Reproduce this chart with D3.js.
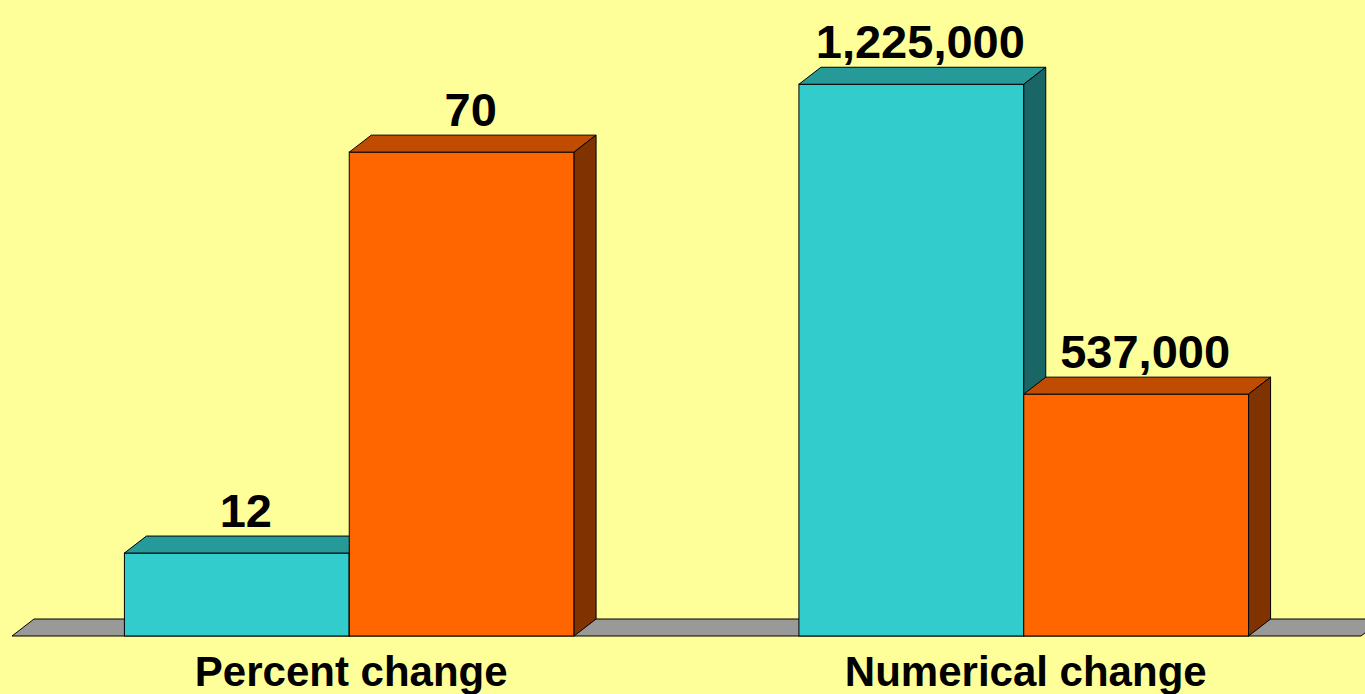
<!DOCTYPE html>
<html>
<head>
<meta charset="utf-8">
<script src="https://cdn.jsdelivr.net/npm/d3@7"></script>
<style>
  html, body { margin: 0; padding: 0; background: #ffff99; }
  svg { display: block; }
  text { font-family: Arial, "Liberation Sans", sans-serif; font-weight: bold; fill: #000; }
</style>
</head>
<body>
<svg width="1365" height="694"></svg>
<script>
var groups = ['Percent change', 'Numerical change']
var series = ['before', 'after']
var percentValues = [12, 70]
var numericValues = [1225000, 537000]
var labelText = [['12', '70'], ['1,225,000', '537,000']]

var svg = d3.select('svg')

var base = 636
var dx = 22
var dy = -17

var fronts = ['#33cccc', '#ff6600']
var tops = ['#269999', '#bf4c00']
var sides = ['#1a6666', '#803300']

var x0 = d3.scaleBand()
  .domain(groups)
  .range([12, 1361])

var x1 = d3.scaleBand()
  .domain(series)
  .range([0, x0.bandwidth()])
  .paddingInner(0)
  .paddingOuter(0.5)

// each group has its own value scale
var yScales = [
  d3.scaleLinear().domain([0, 80]).range([base, 83]),
  d3.scaleLinear().domain([0, 1250000]).range([base, 73])
]

var groupData = [percentValues, numericValues]

// floor
var fx0 = x0.range()[0]
var fx1 = x0.range()[1]
svg.append('path')
  .attr('d', 'M' + fx0 + ',' + base + 'L' + (fx0 + dx) + ',' + (base + dy) +
    'L' + (fx1 + dx) + ',' + (base + dy) + 'L' + fx1 + ',' + base + 'Z')
  .style('fill', '#999999')
  .style('stroke', '#000')
  .style('stroke-width', 1)

var g = svg.selectAll('g.group')
  .data(groups)
  .enter()
  .append('g')
  .attr('class', 'group')
  .attr('transform', function (d) { return 'translate(' + x0(d) + ',0)' })

g.each(function (gname, gi) {
  var sel = d3.select(this)
  var y = yScales[gi]
  var bw = x1.bandwidth()
  groupData[gi].forEach(function (v, i) {
    var left = x1(series[i])
    var right = left + bw
    var top = y(v)
    // front
    sel.append('rect')
      .attr('x', left)
      .attr('y', top)
      .attr('width', bw)
      .attr('height', base - top)
      .style('fill', fronts[i])
      .style('stroke', '#000')
      .style('stroke-width', 1)
    // top face
    sel.append('path')
      .attr('d', 'M' + left + ',' + top + 'L' + (left + dx) + ',' + (top + dy) +
        'L' + (right + dx) + ',' + (top + dy) + 'L' + right + ',' + top + 'Z')
      .style('fill', tops[i])
      .style('stroke', '#000')
      .style('stroke-width', 1)
    // side face
    sel.append('path')
      .attr('d', 'M' + right + ',' + top + 'L' + (right + dx) + ',' + (top + dy) +
        'L' + (right + dx) + ',' + (base + dy) + 'L' + right + ',' + base + 'Z')
      .style('fill', sides[i])
      .style('stroke', '#000')
      .style('stroke-width', 1)
    // value label
    sel.append('text')
      .attr('x', left + bw / 2 + 9)
      .attr('y', top + dy - 9)
      .attr('text-anchor', 'middle')
      .style('font-size', '47px')
      .text(labelText[gi][i])
  })
  sel.append('text')
    .attr('x', x0.bandwidth() / 2 + 2)
    .attr('y', 686)
    .attr('text-anchor', 'middle')
    .style('font-size', '42px')
    .text(gname)
})
</script>
</body>
</html>
